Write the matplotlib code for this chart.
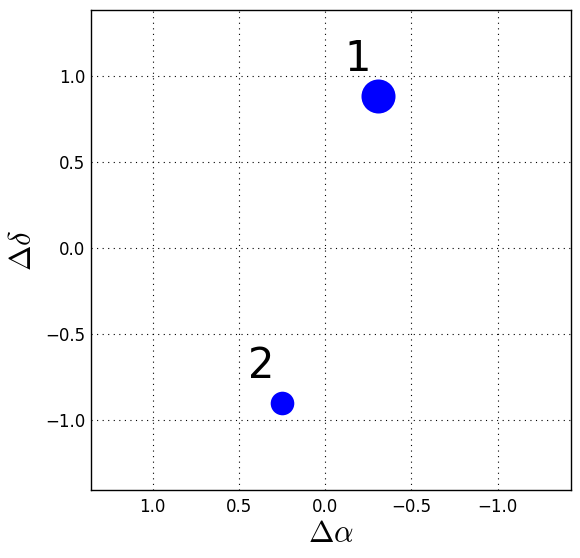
import matplotlib
matplotlib.use("Agg")
import matplotlib.pyplot as plt

plt.rcParams['mathtext.fontset'] = 'cm'

# data
labels = ["1", "2"]
dra = [-0.307, 0.249]
ddec = [0.881, -0.899]
sizes = [24.5, 17.0]  # marker diameters in points

fig = plt.figure(figsize=(5.8, 5.58), dpi=100)
ax = fig.add_axes([91/580, 68/558, 480/580, 480/558])

for x, y, s, lab in zip(dra, ddec, sizes, labels):
    ax.plot([x], [y], 'o', color='blue', markersize=s, markeredgewidth=0)
    ax.text(x + 0.195, y + 0.145, lab, fontsize=30, ha='left', va='baseline')

ax.set_xlim(1.357, -1.426)
ax.set_ylim(-1.403, 1.38)
ax.set_xticks([1.0, 0.5, 0.0, -0.5, -1.0])
ax.set_yticks([-1.0, -0.5, 0.0, 0.5, 1.0])
ax.grid(True, color='black', linestyle=(0, (1, 4)), linewidth=0.8)
ax.tick_params(length=0, labelsize=12)
ax.tick_params(axis='y', pad=4)
ax.tick_params(axis='x', pad=6)
for sp in ax.spines.values():
    sp.set_linewidth(1.0)
ax.set_xlabel(r'$\Delta\alpha$', fontsize=22, labelpad=2)
ax.set_ylabel(r'$\Delta\delta$', fontsize=22, labelpad=6)
fig.savefig("out.png", dpi=100)
